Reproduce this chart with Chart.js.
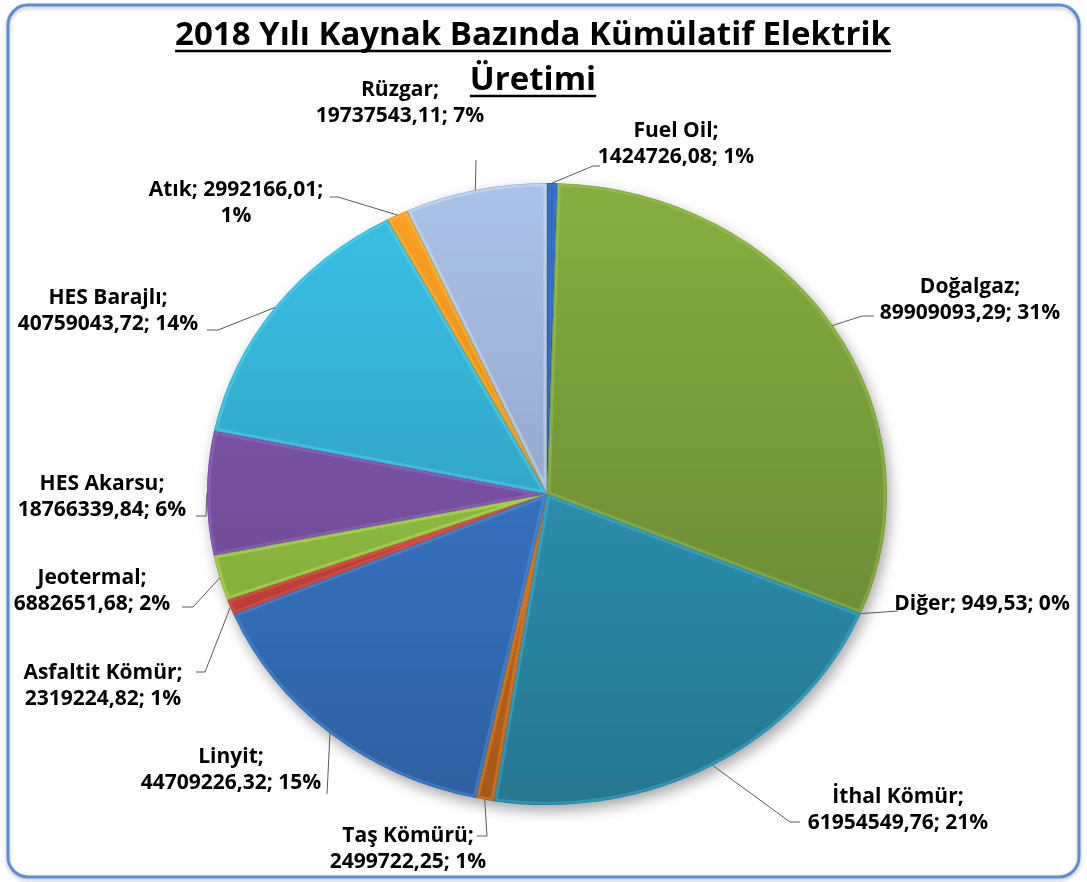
<!DOCTYPE html>
<html>
<head>
<meta charset="utf-8">
<script src="https://cdn.jsdelivr.net/npm/chart.js@4.4.1/dist/chart.umd.min.js"></script>
<style>
  html, body { margin: 0; padding: 0; background: #fff; }
  canvas { display: block; }
</style>
</head>
<body>
<canvas id="pie" width="1087" height="882"></canvas>
<script>
// source names and cumulative production (2018)
const sources = ['Fuel Oil', 'Doğalgaz', 'Diğer', 'İthal Kömür', 'Taş Kömürü', 'Linyit',
  'Asfaltit Kömür', 'Jeotermal', 'HES Akarsu', 'HES Barajlı', 'Atık', 'Rüzgar'];
const production = [1424726.08, 89909093.29, 949.53, 61954549.76, 2499722.25, 44709226.32,
  2319224.82, 6882651.68, 18766339.84, 40759043.72, 2992166.01, 19737543.11];
const sliceColors = ['#2f62ae', '#7ca03c', '#999999', '#2f95b4', '#d06e1e', '#3a78c8',
  '#d0473e', '#96c444', '#7c55a8', '#37b2d6', '#f59522', '#a0b4d8'];
const titleLines = ['2018 Yılı Kaynak Bazında Kümülatif Elektrik', 'Üretimi'];

// where each data label sits, how it wraps, and the leader line bends
const labelSpots = [
  { x: 676, y: 131, wrap: 'name', path: [[593, 166], [600, 166]] },
  { x: 970, y: 287, wrap: 'name', path: [[862, 316], [874, 316]] },
  { x: 982, y: 604, wrap: 'none', path: [[898, 611]] },
  { x: 898, y: 797, wrap: 'name', path: [[790, 822], [800, 822]] },
  { x: 408, y: 836, wrap: 'name', path: [[487, 836], [477, 836]] },
  { x: 231, y: 757, wrap: 'name', path: [[327, 794]] },
  { x: 103, y: 673, wrap: 'name', path: [[205, 672], [196, 672]] },
  { x: 92, y: 578, wrap: 'name', path: [[193, 607], [182, 607]] },
  { x: 102, y: 484, wrap: 'name', path: [[206, 516], [196, 516]] },
  { x: 108, y: 298, wrap: 'name', path: [[218, 330], [207, 330]] },
  { x: 236, y: 190, wrap: 'pct', path: [[338, 197], [330, 197]] },
  { x: 400, y: 90, wrap: 'name', path: [[476, 160]] }
];

const squash = 311 / 340;   // pie is drawn as a flattened ellipse
const labelFont = '700 21px "Open Sans"';
const lineGap = 26;

// percentages that add up to 100 (largest remainder)
function roundedPercents(vals) {
  const total = vals.reduce((a, b) => a + b, 0);
  const raw = vals.map(v => v / total * 100);
  const out = raw.map(r => Math.floor(r));
  const left = 100 - out.reduce((a, b) => a + b, 0);
  raw.map((r, i) => [r - Math.floor(r), i])
    .sort((a, b) => b[0] - a[0])
    .slice(0, left)
    .forEach(([, i]) => out[i]++);
  return out;
}
const percents = roundedPercents(production);

function shade(hex, f, a) {
  const n = parseInt(hex.slice(1), 16);
  const ch = [(n >> 16) & 255, (n >> 8) & 255, n & 255].map(c => Math.max(0, Math.min(255, Math.round(c * f))));
  return `rgba(${ch[0]},${ch[1]},${ch[2]},${a === undefined ? 1 : a})`;
}

function labelLines(i) {
  const name = sources[i] + ';';
  const val = production[i].toFixed(2).replace('.', ',') + ';';
  const pct = percents[i] + '%';
  const w = labelSpots[i].wrap;
  if (w === 'none') return [name + ' ' + val + ' ' + pct];
  if (w === 'pct') return [name + ' ' + val, pct];
  return [name, val + ' ' + pct];
}

// frame around the whole chart
const frame = {
  id: 'frame',
  beforeDraw(chart) {
    const ctx = chart.ctx;
    ctx.save();
    ctx.shadowColor = 'rgba(0,0,0,0.25)';
    ctx.shadowBlur = 4;
    ctx.shadowOffsetY = 2;
    ctx.strokeStyle = '#5b8ed6';
    ctx.lineWidth = 3;
    ctx.beginPath();
    ctx.roundRect(8, 5, 1071, 872, 20);
    ctx.stroke();
    ctx.restore();
  }
};

// squash the pie vertically, shadow underneath, bevelled rims on top
const ellipsePie = {
  id: 'ellipsePie',
  beforeDatasetsDraw(chart) {
    const arc = chart.getDatasetMeta(0).data[0];
    const { x, y, outerRadius } = arc;
    const ctx = chart.ctx;
    ctx.save();
    ctx.shadowColor = 'rgba(0,0,0,0.35)';
    ctx.shadowBlur = 14;
    ctx.shadowOffsetX = 3;
    ctx.shadowOffsetY = 6;
    ctx.fillStyle = '#fff';
    ctx.beginPath();
    ctx.ellipse(x, y, outerRadius, outerRadius * squash, 0, 0, Math.PI * 2);
    ctx.fill();
    ctx.restore();
    ctx.save();
    ctx.translate(x, y);
    ctx.scale(1, squash);
    ctx.translate(-x, -y);
  },
  afterDatasetsDraw(chart) {
    const ctx = chart.ctx;
    chart.getDatasetMeta(0).data.forEach((arc, i) => {
      if (arc.endAngle - arc.startAngle < 0.001) return;
      ctx.save();
      ctx.beginPath();
      ctx.moveTo(arc.x, arc.y);
      ctx.arc(arc.x, arc.y, arc.outerRadius, arc.startAngle, arc.endAngle);
      ctx.closePath();
      ctx.clip();
      ctx.lineJoin = 'round';
      ctx.lineWidth = 7;
      ctx.strokeStyle = shade(sliceColors[i], 1.35, 0.35);
      ctx.stroke();
      ctx.lineWidth = 1.2;
      ctx.strokeStyle = 'rgba(0,0,0,0.22)';
      ctx.stroke();
      ctx.restore();
    });
    ctx.restore();
  }
};

// title with underline, data labels and leader lines
const textLayer = {
  id: 'textLayer',
  afterDraw(chart) {
    const ctx = chart.ctx;
    ctx.save();
    ctx.fillStyle = '#000';
    ctx.strokeStyle = '#000';
    ctx.textAlign = 'center';
    ctx.textBaseline = 'alphabetic';
    ctx.font = '700 33px "Open Sans"';
    const titleBase = [45, 90];
    titleLines.forEach((t, k) => {
      ctx.fillText(t, 533, titleBase[k]);
      const w = ctx.measureText(t).width;
      ctx.lineWidth = 2.5;
      ctx.beginPath();
      ctx.moveTo(533 - w / 2, titleBase[k] + 6);
      ctx.lineTo(533 + w / 2, titleBase[k] + 6);
      ctx.stroke();
    });

    const meta = chart.getDatasetMeta(0);
    ctx.font = labelFont;
    ctx.textBaseline = 'middle';
    meta.data.forEach((arc, i) => {
      const spot = labelSpots[i];
      const mid = (arc.startAngle + arc.endAngle) / 2;
      const ax = arc.x + arc.outerRadius * Math.cos(mid);
      const ay = arc.y + arc.outerRadius * squash * Math.sin(mid);
      ctx.strokeStyle = '#5a5a5a';
      ctx.lineWidth = 1;
      ctx.beginPath();
      ctx.moveTo(ax, ay);
      spot.path.forEach(([px, py]) => ctx.lineTo(px, py));
      ctx.stroke();
      ctx.fillStyle = '#000';
      labelLines(i).forEach((line, k) => ctx.fillText(line, spot.x, spot.y + k * lineGap));
    });
    ctx.restore();
  }
};

const ctx = document.getElementById('pie').getContext('2d');
const chart = new Chart(ctx, {
  type: 'pie',
  data: {
    labels: sources,
    datasets: [{
      data: production,
      backgroundColor: c => {
        const area = c.chart.chartArea;
        const base = sliceColors[c.dataIndex];
        if (!area) return base;
        const g = c.chart.ctx.createLinearGradient(0, area.top, 0, area.bottom);
        g.addColorStop(0, shade(base, 1.08));
        g.addColorStop(1, shade(base, 0.8));
        return g;
      },
      borderWidth: 0
    }]
  },
  options: {
    responsive: false,
    animation: false,
    devicePixelRatio: 1,
    layout: { padding: { left: 207, right: 200, top: 154, bottom: 48 } },
    plugins: {
      legend: { display: false },
      tooltip: { enabled: false }
    }
  },
  plugins: [frame, ellipsePie, textLayer]
});
</script>
</body>
</html>
